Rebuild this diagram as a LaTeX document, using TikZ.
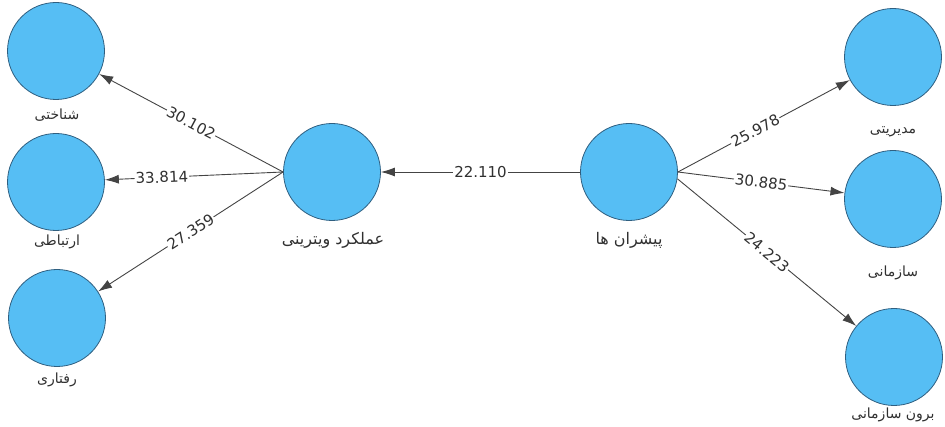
\documentclass[tikz,border=0pt]{standalone}
\usepackage{fontspec}
\setmainfont{DejaVu Sans}
\newfontfamily\arabicfont[Script=Arabic]{DejaVu Sans}
\TeXXeTstate=1
\usetikzlibrary{arrows.meta}

\definecolor{circfill}{HTML}{56BEF4}
\definecolor{circline}{HTML}{2F5F80}
\definecolor{edgegray}{HTML}{444444}
\definecolor{txtgray}{HTML}{303030}

\begin{document}
\begin{tikzpicture}[x=1pt,y=-1pt,>={Latex[length=14pt,width=9pt]}]

\tikzstyle{lv}=[circle,draw=circline,fill=circfill,line width=0.8pt,minimum size=97pt,inner sep=0pt]
\tikzstyle{lvname}=[text=txtgray,inner sep=1pt,font=\arabicfont\fontsize{14}{16}\selectfont]
\tikzstyle{bigname}=[text=txtgray,inner sep=1pt,font=\arabicfont\fontsize{16}{18}\selectfont]
\tikzstyle{link}=[->,draw=edgegray,line width=0.9pt]
\tikzstyle{coef}=[fill=white,inner sep=1pt,sloped,text=txtgray,font=\fontsize{15}{17}\selectfont]

\useasboundingbox (0,0) rectangle (945,427);

\node[lv]  (SHN)  at ( 56, 51) {} ;
\node[lv]  (ERT)  at ( 56,182) {} ;
\node[lv]  (RAF)  at ( 57,318) {} ;
\node[lv]  (AMK)  at (332,172) {} ;
\node[lv]  (PISH) at (629,172) {} ;
\node[lv]  (MOD)  at (893, 57) {} ;
\node[lv]  (SAZ)  at (893,199) {} ;
\node[lv]  (BRN)  at (894,357) {} ;

\node[lvname]  (SHNl)  at ( 57,115) {\beginR شناختی\endR} ;
\node[lvname]  (ERTl)  at ( 57,242) {\beginR ارتباطی\endR} ;
\node[lvname]  (RAFl)  at ( 57,380) {\beginR رفتاری\endR} ;
\node[bigname] (AMKl)  at (333,240) {\beginR عملکرد ویترینی\endR} ;
\node[bigname] (PISHl) at (629,240) {\beginR پیشران ها\endR} ;
\node[lvname]  (MODl)  at (893,132) {\beginR مدیریتی\endR} ;
\node[lvname]  (SAZl)  at (893,273) {\beginR سازمانی\endR} ;
\node[lvname]  (BRNl)  at (893,415) {\beginR برون سازمانی\endR} ;

\draw[link] (AMK.west) -- (SHN) node[coef,pos=0.5]  (c1) {30.102} ;
\draw[link] (AMK.west) -- (ERT) node[coef,pos=0.68] (c2) {33.814} ;
\draw[link] (AMK.west) -- (RAF) node[coef,pos=0.5]  (c3) {27.359} ;
\draw[link] (PISH) -- (AMK)     node[coef,pos=0.5]  (c4) {22.110} ;
\draw[link] (PISH.east) -- (MOD) node[coef,pos=0.45] (c5) {25.978} ;
\draw[link] (PISH.east) -- (SAZ) node[coef,pos=0.5]  (c6) {30.885} ;
\draw[link] (PISH.-8) -- (BRN)   node[coef,pos=0.5]  (c7) {24.223} ;

\end{tikzpicture}
\end{document}
